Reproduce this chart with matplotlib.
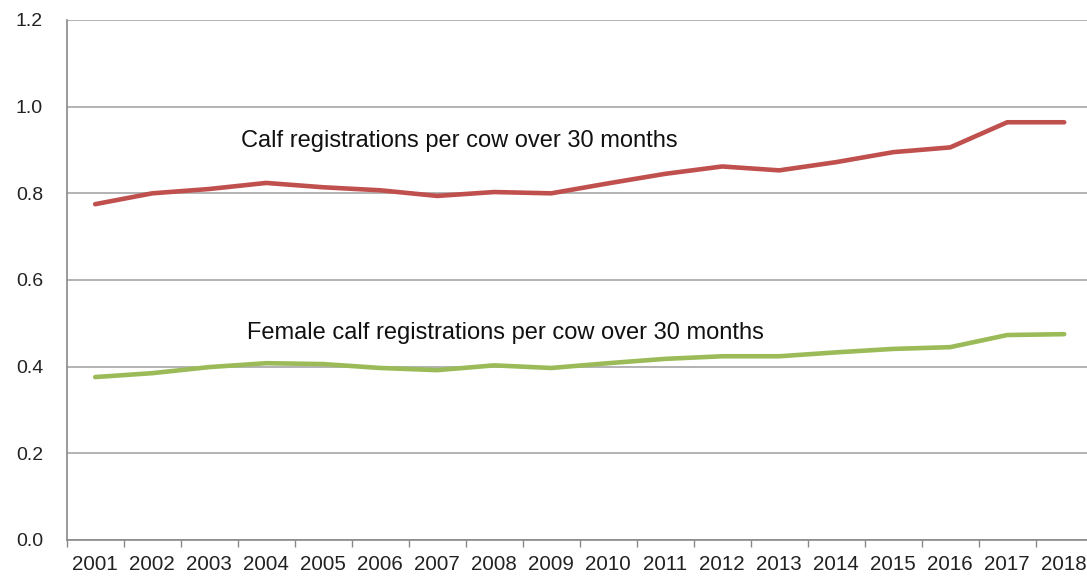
import matplotlib
matplotlib.use("Agg")
import matplotlib.pyplot as plt
import numpy as np

years = [str(y) for y in range(2001, 2019)]
calf = [0.775, 0.800, 0.810, 0.824, 0.814, 0.807, 0.794, 0.803, 0.800,
        0.823, 0.845, 0.862, 0.853, 0.872, 0.895, 0.906, 0.964, 0.964]
female = [0.376, 0.385, 0.399, 0.408, 0.406, 0.397, 0.392, 0.403, 0.397,
          0.408, 0.418, 0.424, 0.424, 0.433, 0.441, 0.445, 0.473, 0.475]
calf_label = "Calf registrations per cow over 30 months"
female_label = "Female calf registrations per cow over 30 months"
yticks = [0.0, 0.2, 0.4, 0.6, 0.8, 1.0, 1.2]

plt.rcParams['font.family'] = ['Liberation Sans', 'DejaVu Sans']

fig = plt.figure(figsize=(10.87, 5.77), dpi=100)
ax = fig.add_axes([66.7/1087, 1-540/577, (57*18)/1087, (540-20)/577])

x = np.arange(len(years))
ax.plot(x, calf, color='#C0504D', lw=3.3, solid_capstyle='round',
        solid_joinstyle='round', zorder=3)
ax.plot(x, female, color='#9BBB59', lw=3.3, solid_capstyle='round',
        solid_joinstyle='round', zorder=3)

ax.set_xlim(-0.5, len(years)-0.5)
ax.set_ylim(0, 1.2)
ax.set_yticks(yticks)
ax.set_yticklabels([f"{v:.1f}" for v in yticks], fontsize=14, color='#222222')
ax.set_xticks(x)
ax.set_xticklabels(years, fontsize=14.8, color='#222222')
ax.set_xticks(np.arange(-0.5, len(years), 1.0), minor=True)
ax.tick_params(axis='x', which='major', length=0, pad=10.5)
ax.tick_params(axis='x', which='minor', length=5, color='#898989', width=1)
ax.tick_params(axis='y', length=0, pad=17)
ax.yaxis.grid(True, color='#a6a6a6', lw=1.2)
ax.set_axisbelow(True)
for s in ['top', 'right']:
    ax.spines[s].set_visible(False)
for s in ['left', 'bottom']:
    ax.spines[s].set_color('#898989')
    ax.spines[s].set_linewidth(1.2)

ax.text(2.565, 0.908, calf_label, fontsize=17, va='baseline', ha='left',
        color='#111111')
ax.text(2.655, 0.463, female_label, fontsize=17, va='baseline', ha='left',
        color='#111111')

fig.savefig("out.png", dpi=100)
